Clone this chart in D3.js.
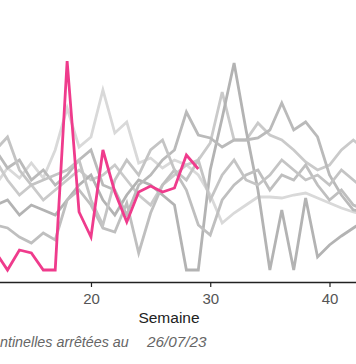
<!DOCTYPE html>
<html><head><meta charset="utf-8">
<script src="https://cdn.jsdelivr.net/npm/d3@7"></script>
<style>body{margin:0;background:#fff;overflow:hidden} svg{display:block}</style>
</head><body><svg id="c" width="356" height="364"></svg>
<script>
// ---- data ----
const weeks = d3.range(11, 45);            // semaines 11..44
const pinkWeeks = d3.range(11, 30);        // semaines 11..29 (année en cours)
const pinkValues = [12, 9, 0, 10, 8.5, 0, 0, 104.5, 29, 16.5, 60, 39, 24, 39, 42, 39, 41, 57.5, 50.5];

const grayLight = [35, 42.5, 51, 46, 53.5, 46, 60, 81, 61.5, 66.5, 90, 68.5, 74, 53.5, 56, 51, 55, 52.5, 47.5, 37.5, 23.5, 28.5, 32.5, 36.5, 36.5, 36, 37.5, 38.5, 36, 33.5, 31, 29, 27.5, 26];
const grayB = [47.5, 55, 45, 37.5, 42.5, 35, 40, 45, 50, 45, 47.5, 52.5, 45, 37.5, 32.5, 42.5, 47.5, 52.5, 55, 63.5, 89, 65, 65, 73.5, 67.5, 65, 60, 54, 50, 52.5, 60, 65, 60, 55];
const grayC = [27.5, 32.5, 35, 27.5, 32.5, 30, 27.5, 35, 42.5, 47.5, 35, 27.5, 37.5, 45, 42.5, 37.5, 32.5, 0, 0, 50, 76, 103.5, 70, 40, 0, 30, 0, 36, 6.5, 12.5, 17, 21, 25, 27.5];
const grayD = [55, 60, 51, 55, 45, 50, 42.5, 47.5, 55, 60, 42.5, 40, 27.5, 42.5, 47.5, 55, 60, 79, 67.5, 66, 61.5, 65, 65, 66, 70, 83.5, 70, 74, 66.5, 47.5, 37.5, 30, 29, 27.5];
const grayE = [20, 22.5, 21, 16.5, 13.5, 18.5, 15, 35, 40, 32.5, 21, 19, 33.5, 8.5, 28.5, 42.5, 50, 40, 22.5, 17.5, 35, 42.5, 47.5, 50, 40, 47.5, 45, 52.5, 42.5, 35, 40, 32.5, 30, 35];
const grayF = [52.5, 60, 66.5, 50, 42.5, 45, 47.5, 50, 55, 35, 22.5, 45, 55, 47.5, 60, 65, 50, 45, 55, 35, 47.5, 55, 45, 42.5, 47.5, 55, 50, 45, 47.5, 42.5, 50, 45, 40, 37.5];

const grayColors = ["#d9d9d9", "#cacaca", "#b3b3b3", "#bababa", "#bfbfbf", "#c4c4c4"];
const xTicks = [20, 30, 40];
const xLabel = "Semaine";
const captionText = "ntinelles arrêtées au";
const captionDate = "26/07/23";

// ---- drawing ----
const svg = d3.select("#c");
const x = d3.scaleLinear().domain([1, 52]).range([-135.6, 472.6]);
const y = d3.scaleLinear().domain([0, 135]).range([270, 0]);

const line = d3.line().x(d => x(d[0])).y(d => y(d[1]));

const grays = [grayLight, grayB, grayC, grayD, grayE, grayF];
grays.forEach((vals, i) => {
  svg.append("path")
    .datum(weeks.map((w, j) => [w, vals[j]]))
    .attr("d", line)
    .attr("fill", "none")
    .attr("stroke", grayColors[i])
    .attr("stroke-width", 2.8)
    .attr("stroke-linejoin", "miter");
});

svg.append("path")
  .datum(pinkWeeks.map((w, j) => [w, pinkValues[j]]))
  .attr("d", line)
  .attr("fill", "none")
  .attr("stroke", "#ef3b8c")
  .attr("stroke-width", 2.8);

const ax = svg.append("g")
  .attr("transform", "translate(0,282)")
  .call(d3.axisBottom(x).tickValues(xTicks).tickSize(5).tickSizeOuter(0).tickPadding(6));
ax.select(".domain").attr("stroke", "#222").attr("stroke-width", 1.6);
ax.selectAll(".tick line").attr("stroke", "#222").attr("stroke-width", 1.2);
ax.selectAll(".tick text")
  .attr("fill", "#555")
  .style("font-family", "'Liberation Sans', Arial, sans-serif")
  .style("font-size", "15px");

svg.append("text")
  .attr("x", 169).attr("y", 323)
  .attr("text-anchor", "middle")
  .style("font-family", "'Liberation Sans', Arial, sans-serif")
  .style("font-size", "15.5px")
  .attr("fill", "#222")
  .text(xLabel);

const cap = svg.append("g")
  .style("font-family", "'Liberation Sans', Arial, sans-serif")
  .style("font-size", "14.3px")
  .style("font-style", "italic")
  .attr("fill", "#666");
cap.append("text").attr("x", 0).attr("y", 346.5).text(captionText);
cap.append("text").attr("x", 147).attr("y", 346.5).style("font-size", "15.3px").text(captionDate);
</script>
</body></html>
